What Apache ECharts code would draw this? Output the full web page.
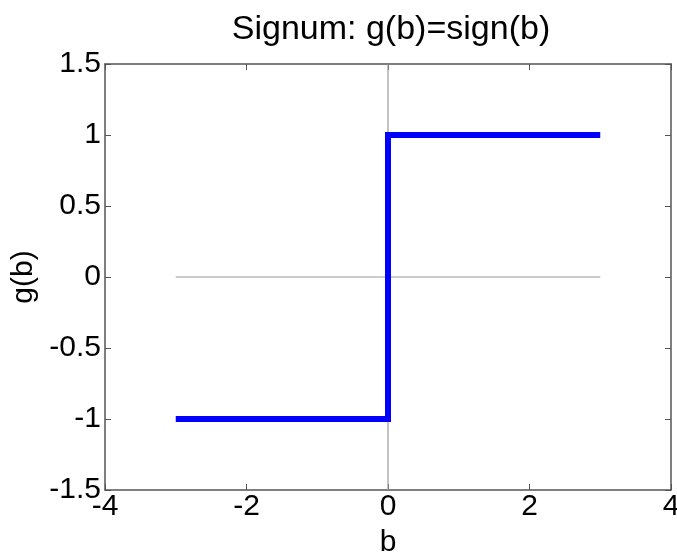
<!DOCTYPE html>
<html>
<head>
<meta charset="utf-8">
<script src="https://cdn.jsdelivr.net/npm/echarts@6/dist/echarts.min.js"></script>
<style>
  html, body { margin: 0; padding: 0; background: #fff; }
  #signChart { width: 677px; height: 552px; }
</style>
</head>
<body>
<div id="signChart"></div>
<script>
// data
var stepX = [-3, 0, 0, 3];
var stepY = [-1, -1, 1, 1];
var zeroHorizX = [-3, 3];
var zeroHorizY = [0, 0];
var zeroVertX = [0, 0];
var zeroVertY = [-1.5, 1.5];
var xTicks = [-4, -2, 0, 2, 4];
var yTicks = [-1.5, -1, -0.5, 0, 0.5, 1, 1.5];

function pairs(xs, ys) {
    return xs.map(function (x, i) { return [x, ys[i]]; });
}

document.addEventListener('DOMContentLoaded', function () {
    var myChart = echarts.init(document.getElementById('signChart'));
    var fontFam = 'Liberation Sans, Arial, sans-serif';
    var boxLine = { show: true, onZero: false, lineStyle: { color: '#555', width: 1.5 } };
    var tickIn = { show: true, inside: true, length: 6, lineStyle: { color: '#555', width: 1 } };

    var option = {
        animation: false,
        title: {
            text: 'Signum: g(b)=sign(b)',
            left: 386,
            textAlign: 'center',
            top: 8,
            textStyle: { fontFamily: fontFam, fontSize: 34, fontWeight: 'normal', color: '#000' }
        },
        grid: { left: 105, right: 6, top: 64, bottom: 62, outerBoundsMode: 'none', containLabel: false },
        xAxis: [{
            type: 'value', min: xTicks[0], max: xTicks[xTicks.length - 1], interval: 2,
            position: 'bottom',
            name: 'b', nameLocation: 'middle', nameGap: 38,
            nameTextStyle: { fontFamily: fontFam, fontSize: 30, color: '#000' },
            axisLine: boxLine, axisTick: tickIn, splitLine: { show: false },
            axisLabel: { fontFamily: fontFam, fontSize: 30, color: '#000', margin: 2 }
        }, {
            type: 'value', min: xTicks[0], max: xTicks[xTicks.length - 1], interval: 2,
            position: 'top',
            axisLine: boxLine, axisTick: tickIn, splitLine: { show: false },
            axisLabel: { show: false }
        }],
        yAxis: [{
            type: 'value', min: yTicks[0], max: yTicks[yTicks.length - 1], interval: 0.5,
            position: 'left',
            name: 'g(b)', nameLocation: 'middle', nameGap: 62, nameRotate: 90,
            nameTextStyle: { fontFamily: fontFam, fontSize: 30, color: '#000' },
            axisLine: boxLine, axisTick: tickIn, splitLine: { show: false },
            axisLabel: { fontFamily: fontFam, fontSize: 30, color: '#000', margin: 4 }
        }, {
            type: 'value', min: yTicks[0], max: yTicks[yTicks.length - 1], interval: 0.5,
            position: 'right',
            axisLine: boxLine, axisTick: tickIn, splitLine: { show: false },
            axisLabel: { show: false }
        }],
        series: [{
            type: 'line', data: pairs(zeroHorizX, zeroHorizY), symbol: 'none',
            lineStyle: { color: '#999', width: 1.2 }, silent: true
        }, {
            type: 'line', data: pairs(zeroVertX, zeroVertY), symbol: 'none',
            lineStyle: { color: '#999', width: 1.2 }, silent: true
        }, {
            type: 'line', data: pairs(stepX, stepY), symbol: 'none',
            lineStyle: { color: '#0000ff', width: 6, join: 'miter' }
        }]
    };

    myChart.setOption(option);
});
</script>
</body>
</html>
